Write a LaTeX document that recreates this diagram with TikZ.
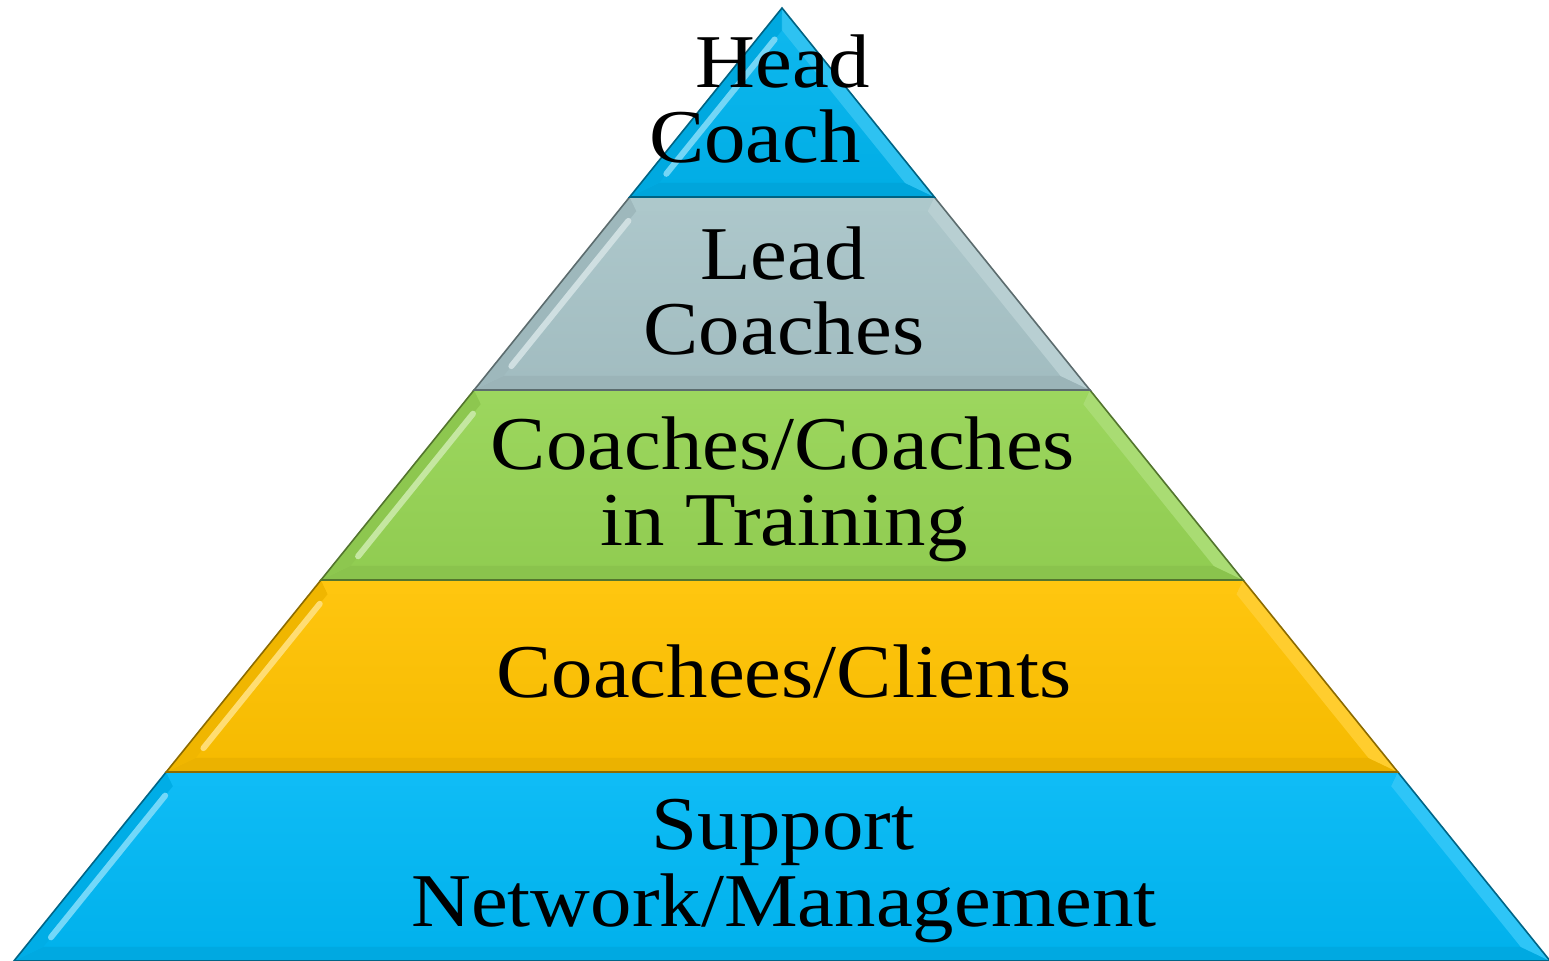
\documentclass[tikz,border=0pt]{standalone}
\usepackage{fontspec}
\setmainfont{Liberation Serif}[FakeStretch=1.09]
\usetikzlibrary{calc}

\definecolor{headblue}{RGB}{0,180,238}
\definecolor{leadgray}{RGB}{168,196,200}
\definecolor{coachgreen}{RGB}{150,212,84}
\definecolor{clientgold}{RGB}{255,194,0}
\definecolor{supportblue}{RGB}{0,184,245}

\tikzset{
  tier/.style={anchor=base, inner sep=0pt, text=black,
    font=\fontsize{38}{38}\selectfont},
}

% one bevelled slice of the pyramid: colour, top y, bottom y (pixels)
\newcommand{\layer}[3]{%
  \pgfmathsetmacro{\xTL}{782-0.806*(#2-8)}%
  \pgfmathsetmacro{\xTR}{782+0.806*(#2-8)}%
  \pgfmathsetmacro{\xBL}{782-0.806*(#3-8)}%
  \pgfmathsetmacro{\xBR}{782+0.806*(#3-8)}%
  \pgfmathsetmacro{\yIT}{max(#2+14,30.3)}%
  \pgfmathsetmacro{\yIB}{#3-14}%
  \pgfmathsetmacro{\xITL}{782-0.806*(\yIT-8)+18}%
  \pgfmathsetmacro{\xITR}{782+0.806*(\yIT-8)-18}%
  \pgfmathsetmacro{\xIBL}{782-0.806*(\yIB-8)+18}%
  \pgfmathsetmacro{\xIBR}{782+0.806*(\yIB-8)-18}%
  \shade[top color=#1!94!white, bottom color=#1!96!black]
    (\xTL,#2) -- (\xTR,#2) -- (\xBR,#3) -- (\xBL,#3) -- cycle;
  % bevel strips
  \fill[#1!92!black] (\xBL,#3) -- (\xBR,#3) -- (\xIBR,\yIB) -- (\xIBL,\yIB) -- cycle;
  \fill[#1!94!black] (\xTL,#2) -- (\xITL,\yIT) -- (\xIBL,\yIB) -- (\xBL,#3) -- cycle;
  \fill[#1!82!white] (\xTR,#2) -- (\xBR,#3) -- (\xIBR,\yIB) -- (\xITR,\yIT) -- cycle;
  \fill[#1!94!white] (\xTL,#2) -- (\xTR,#2) -- (\xITR,\yIT) -- (\xITL,\yIT) -- cycle;
  % highlight on the inner left edge
  \draw[#1!55!white, line width=3, line cap=round]
    ($(\xITL,\yIT)!0.06!(\xIBL,\yIB)$) -- ($(\xITL,\yIT)!0.94!(\xIBL,\yIB)$);
  \draw[#1!55!black, line width=0.8] (\xTL,#2) -- (\xTR,#2) -- (\xBR,#3) -- (\xBL,#3) -- cycle;
}

\begin{document}
\begin{tikzpicture}[x=0.5pt, y=-0.5pt]
  \useasboundingbox (0,0) rectangle (1549,961);

  \layer{supportblue}{772}{961}
  \layer{clientgold}{580}{772}
  \layer{coachgreen}{390}{580}
  \layer{leadgray}{197}{390}
  \layer{headblue}{8}{197}

  % labels
  \node[tier] (head1) at (783,88) {Head};
  \node[tier] (head2) at (755,163) {Coach};
  \node[tier] (lead1) at (783,280) {Lead};
  \node[tier] (lead2) at (784,355) {Coaches};
  \node[tier] (coach1) at (783,470) {Coaches/Coaches};
  \node[tier] (coach2) at (784,546) {in Training};
  \node[tier] (client) at (784,698) {Coachees/Clients};
  \node[tier] (support1) at (783,850) {Support};
  \node[tier] (support2) at (784,927) {Network/Management};
\end{tikzpicture}
\end{document}
